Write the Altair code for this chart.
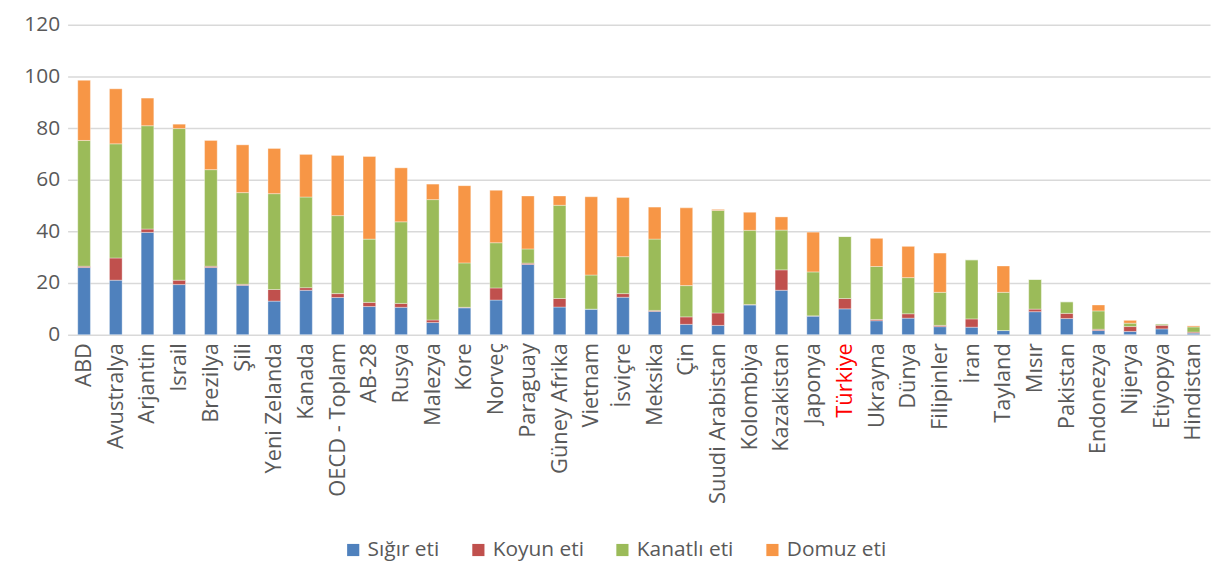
import altair as alt
import pandas as pd

countries = ["ABD", "Avustralya", "Arjantin", "Israil", "Brezilya", "Şili", "Yeni Zelanda",
             "Kanada", "OECD - Toplam", "AB-28", "Rusya", "Malezya", "Kore", "Norveç",
             "Paraguay", "Güney Afrika", "Vietnam", "İsviçre", "Meksika", "Çin",
             "Suudi Arabistan", "Kolombiya", "Kazakistan", "Japonya", "Türkiye", "Ukrayna",
             "Dünya", "Filipinler", "İran", "Tayland", "Mısır", "Pakistan", "Endonezya",
             "Nijerya", "Etiyopya", "Hindistan"]

sigir = [26.0, 21.1, 39.6, 19.4, 26.0, 19.1, 13.0, 17.2, 14.4, 10.9, 10.6, 4.7, 10.4, 13.4,
         27.2, 10.7, 9.9, 14.5, 9.0, 4.0, 3.6, 11.5, 17.2, 7.2, 10.0, 5.4, 6.4, 3.1, 2.9,
         1.6, 8.9, 6.25, 1.6, 1.25, 2.25, 0.6]
koyun = [0.5, 8.6, 1.3, 1.7, 0.5, 0.4, 4.5, 1.0, 1.5, 1.6, 1.5, 1.0, 0.2, 4.7,
         0.5, 3.3, 0.0, 1.4, 0.4, 2.9, 4.8, 0.2, 7.9, 0.1, 4.0, 0.5, 1.7, 0.5, 3.2,
         0.0, 1.0, 2.0, 0.5, 1.9, 1.4, 0.4]
kanatli = [48.7, 44.2, 40.0, 58.7, 37.4, 35.5, 37.1, 35.1, 30.2, 24.5, 31.6, 46.6, 17.2, 17.5,
           5.5, 36.1, 13.2, 14.3, 27.6, 12.1, 39.7, 28.7, 15.4, 17.0, 24.0, 20.5, 14.0, 12.8, 22.9,
           14.8, 11.5, 4.5, 7.1, 1.3, 0.5, 2.0]
domuz = [23.3, 21.3, 10.7, 1.7, 11.3, 18.5, 17.5, 16.5, 23.3, 32.0, 20.9, 6.0, 29.9, 20.3,
         20.5, 3.6, 30.3, 22.9, 12.4, 30.1, 0.4, 7.0, 5.1, 15.4, 0.0, 10.9, 12.1, 15.2, 0.0,
         10.2, 0.0, 0.0, 2.3, 1.1, 0.0, 0.4]

series = ["Sığır eti", "Koyun eti", "Kanatlı eti", "Domuz eti"]
colors = ["#4f81bd", "#c0504d", "#9bbb59", "#f79646"]

rows = []
for s_i, (name, vals) in enumerate(zip(series, [sigir, koyun, kanatli, domuz])):
    for c, v in zip(countries, vals):
        rows.append({"country": c, "series": name, "value": v, "ord": s_i})
df = pd.DataFrame(rows)

FONT = "Open Sans"
GREY = "#595959"

chart = alt.Chart(df).mark_bar(stroke="white", strokeWidth=0.6, strokeOpacity=0.6).encode(
    x=alt.X("country:N", sort=countries, title=None,
            scale=alt.Scale(paddingInner=0.6, paddingOuter=0.32),
            axis=alt.Axis(labelAngle=-90, labelAlign="right", labelBaseline="middle",
                          labelFontSize=22, labelFont=FONT, labelPadding=8,
                          labelColor=alt.expr("datum.value === 'Türkiye' ? '#ff0000' : '#595959'"),
                          ticks=False, domain=False, grid=False, labelOverlap=False)),
    y=alt.Y("value:Q", title=None,
            scale=alt.Scale(domain=[0, 120], nice=False),
            axis=alt.Axis(values=[0, 20, 40, 60, 80, 100, 120], labelFontSize=21, labelFont=FONT,
                          labelColor=GREY, ticks=False, domain=False, labelPadding=8,
                          gridColor="#d9d9d9", gridWidth=1.5)),
    color=alt.Color("series:N", sort=series,
                    scale=alt.Scale(domain=series, range=colors),
                    legend=alt.Legend(title=None, orient="none", direction="horizontal",
                                      legendX=277, legendY=518, symbolType="square",
                                      symbolSize=150, symbolStrokeWidth=0, labelFontSize=21,
                                      labelFont=FONT, labelColor=GREY, columnPadding=28,
                                      labelOffset=4)),
    order=alt.Order("ord:Q", sort="ascending"),
).properties(
    width=1150, height=312,
    autosize=alt.AutoSizeParams(type="none"),
    padding={"left": 60, "top": 15, "right": 3, "bottom": 232},
).configure_view(stroke=None)

chart.save("out.html", embed_options={"renderer": "svg", "actions": False})
